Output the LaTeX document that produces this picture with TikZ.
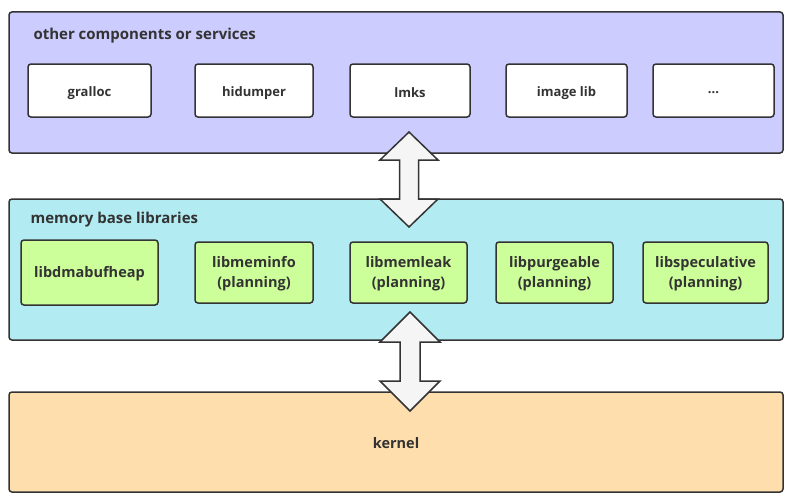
\documentclass[tikz,border=0pt]{standalone}
\usepackage{fontspec}
\setmainfont{Open Sans}
\begin{document}
\begin{tikzpicture}[x=1pt,y=-1pt,
  layer/.style={draw=black!80, line width=1.5pt, rounded corners=3pt},
  item/.style={draw=black!80, line width=1.5pt, rounded corners=3pt, fill=white},
  lib/.style={draw=black!80, line width=1.5pt, rounded corners=3pt, fill=libgreen},
  lbl/.style={font=\bfseries\fontsize{13}{20}\selectfont, text=black!80, align=center},
  lbb/.style={font=\bfseries\fontsize{14.5}{20}\selectfont, text=black!80, align=center},
  ttl/.style={font=\bfseries\fontsize{15}{18}\selectfont, text=black!80, anchor=west},
  arr/.style={draw=black!80, line width=1.5pt, fill=black!4, line join=miter}]
\definecolor{topblue}{HTML}{CCCCFF}
\definecolor{midcyan}{HTML}{B2EBF2}
\definecolor{libgreen}{HTML}{CCFF99}
\definecolor{kern}{HTML}{FFDEAD}
\useasboundingbox (0,0) rectangle (794,503);
% top layer
\draw[layer, fill=topblue] (9,12) rectangle (783,153);
\node[ttl] (t1) at (30,36) {other components or services};
\draw[item] (28,64) rectangle (151,117); \node[lbl] (gralloc) at (89.5,93) {gralloc};
\draw[item] (195,64) rectangle (313,117); \node[lbl] (hidumper) at (254,93) {hidumper};
\draw[item] (350,64) rectangle (470,117); \node[lbl] (lmks) at (410,93) {lmks};
\draw[item] (506,64) rectangle (627,117); \node[lbl] (image) at (566.5,93) {image lib};
\draw[item] (653,64) rectangle (774,117); \node[lbl] (dots) at (713.5,93) {...};
% middle layer
\draw[layer, fill=midcyan] (9,199) rectangle (783,340);
\node[ttl] (t2) at (27,220) {memory base libraries};
\draw[lib] (21,240) rectangle (158,305); \node[lbb] (dma) at (89.5,274) {libdmabufheap};
\draw[lib] (195,242) rectangle (313,303); \node[lbb] (meminfo) at (254,274) {libmeminfo\\(planning)};
\draw[lib] (350,242) rectangle (467,303); \node[lbb] (memleak) at (408.5,274) {libmemleak\\(planning)};
\draw[lib] (496,242) rectangle (613,303); \node[lbb] (purge) at (554.5,274) {libpurgeable\\(planning)};
\draw[lib] (643,242) rectangle (768,303); \node[lbb] (spec) at (705.5,274) {libspeculative\\(planning)};
% bottom layer
\draw[layer, fill=kern] (9,392) rectangle (783,492);
\node[lbb] (kernel) at (396,443) {kernel};
% arrows
\draw[arr] (409,132) -- (438,160) -- (418.5,160) -- (418.5,199) -- (438,199) -- (409,227)
  -- (380,199) -- (399.5,199) -- (399.5,160) -- (380,160) -- cycle;
\draw[arr] (410,312) -- (440,342) -- (420,342) -- (420,381) -- (440,381) -- (410,411)
  -- (380,381) -- (400,381) -- (400,342) -- (380,342) -- cycle;
\end{tikzpicture}
\end{document}
